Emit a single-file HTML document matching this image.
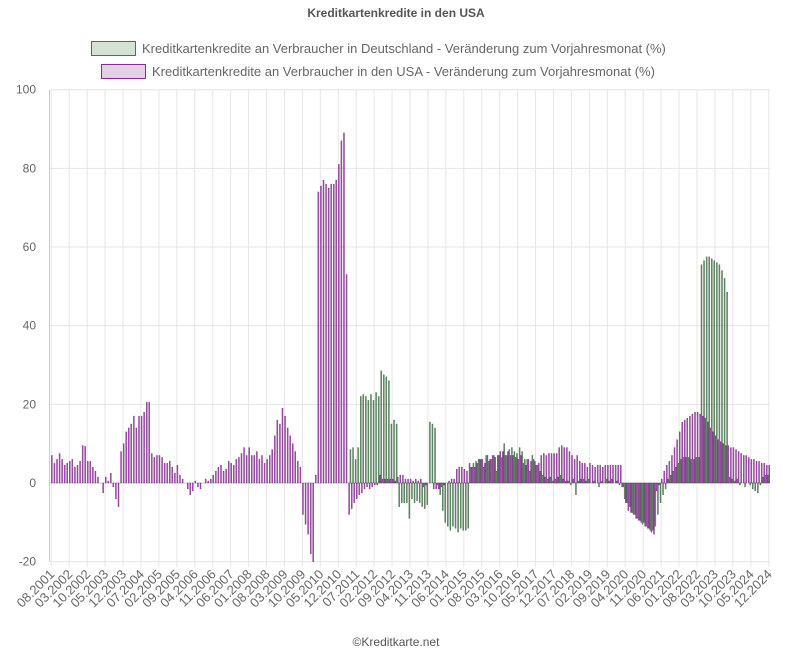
<!DOCTYPE html>
<html><head><meta charset="utf-8">
<style>
body{margin:0;background:#fff;font-family:"Liberation Sans",sans-serif;}
svg{display:block}
</style></head>
<body>
<svg id="chart" width="792" height="660">
<text x="396" y="17" text-anchor="middle" font-size="12" font-weight="bold" fill="#555">Kreditkartenkredite in den USA</text>
<g>
<rect x="91.5" y="41.5" width="44" height="14" fill="#d3e2d5" stroke="#4c7352" stroke-width="1"/>
<text x="142" y="53" font-size="13" fill="#666">Kreditkartenkredite an Verbraucher in Deutschland - Veränderung zum Vorjahresmonat (%)</text>
</g>
<g>
<rect x="101.5" y="64.5" width="44" height="14" fill="#e4d0e6" stroke="#8b2a94" stroke-width="1"/>
<text x="152" y="76" font-size="13" fill="#666">Kreditkartenkredite an Verbraucher in den USA - Veränderung zum Vorjahresmonat (%)</text>
</g>
<g id="grid"></g>
<g id="bars"></g>
<g id="axes"></g>
<text x="396" y="646" text-anchor="middle" font-size="12" fill="#555">©Kreditkarte.net</text>
</svg>
<script>
const yTicks=[-20,0,20,40,60,80,100];
const usa=[7,5,6,7.5,6,4.5,5,5.5,6,4,4.5,5.5,
9.5,9.3,5.5,5.5,4,3,1.5,0,-2.5,1.5,0.5,2.5,-1,-4,-6,
8,10,13,14,15,17,14,17,17,18,20.5,20.5,
7.5,6.5,7,7,6.5,5,5,5.5,4,2.5,4.5,2,
1,0,-1.5,-3,-2,0.5,-1,-1.5,0,1,0.5,1,
2,3,4,4.5,3,3.5,5.5,5,4.5,6,6.5,7.5,
9,7,9,7,7,8,6,7,5,6,7,8.5,
12,16,15,19,17,14,12,10,8,5.5,4,
-8,-10.5,-13,-18,-20,2,
74,75.5,77,76,75,76,76,77,81,87,89,53,
-8,-6.5,-5,-4,-3,-2.5,-1.5,-1,-1.5,-1,-0.5,-0.5,
2,1,1,1,1,1,0.5,1.5,2,2,1,1,
1,0.5,1,0.5,1,-1,-0.5,0,0,-1.5,-1.5,-1.5,
-1,-0.5,0,0.5,1,1,3.5,4,4,3.5,3,5,
4,4,5,6,6,5,7,6,7,6.5,7,8,
8,7,8,7,7,6.5,6,7,5,4.5,6,5.5,6,4.5,5,7,7.5,7,
7.5,7.5,7.5,7.5,9,9.5,9,9,8,7,6,7,
5.5,5,5,4,5,4.5,4,4.5,4.5,4,4.5,4.5,4.5,4.5,4.5,4.5,
4.5,
-1,-5,-7,-7.5,-8,-9,-9.5,-10,-10,-11,-11.5,-12.5,-13,
-2,-0.5,1,3,4.5,5.5,7,9,11,13,15.5,16,
16.5,17,17.5,18,18,17.5,17,16.5,15.5,14,13,12,
11,10.5,10,9.5,9.5,9,9,8.5,8,7.5,7,7,6.5,6,6,5.5,5.5,5,5,4.5,4.5];
const germany=[].concat(new Array(117).fill(0),
[8.5,9,6,9,22,22.5,22,21,22.5,21,23,22,28.5,27.5,27,26,15,16,15],
[-6,-5,-5,-5,-9,-4,-5,-4.5,-5,-6,-6.5,-5.5],
[15.5,15,14],
[-0.5,-3,-7,-10,-11,-12,-11,-11.5,-12.5,-11.5,-12,-12,-11.5],
[4,5,5.5,6,6,4,7,5.5,6,7,3,7,6.5,10,7,8.5,9,8,7.5,9,8,6,6,3,7,5.5,4.5,3,2,1.5],
[1,1.5,0.5,1,1.5,2,1,0.5,0.5,-0.5,1,-3,0.5,1,1,0.5,1,0,0.5,0,-1,0.5,0,1,0.5,1,0,0.5,-0.5],
[-1,-4,-5,-6,-7.5,-8,-9,-9.5,-10.5,-11,-11.5,-12,-12,-11,-8,-5,-3,-1.5],
[1,2,3,4,5,6,6.5,6.5,6.5,6,6,6.5,6.5],
[55.5,56.5,57.5,57.5,57,56.5,56,55.5,54,52,48.5],
[1.5,1,0.5,1,-0.5,0,-1,0,-0.5,-1.5,-2,-2.5,-0.5,1.5,2,2]);
const startYear=2001,startMonth=8,nMonths=281;
const ns="http://www.w3.org/2000/svg";
const X0=50,X1=770,Y0=483,PXU=3.933;
const bw=(X1-X0)/nMonths;
function xScale(i){return X0+(i+0.5)*bw;}
function yScale(v){return Y0-v*PXU;}
function mk(tag,attrs,parent){const e=document.createElementNS(ns,tag);for(const k in attrs)e.setAttribute(k,attrs[k]);parent.appendChild(e);return e;}
const grid=document.getElementById('grid'),bars=document.getElementById('bars'),axes=document.getElementById('axes');
yTicks.forEach(t=>{
 const g=mk('line',{x1:X0,x2:X1,y1:yScale(t),y2:yScale(t),stroke:t===0?'#ccc':'#e4e4e4','stroke-width':1},grid);
 
 
 const l=mk('text',{x:36,y:yScale(t)+4,'text-anchor':'end','font-size':12,fill:'#666'},axes);
 l.textContent=t;
 
 
});
mk('line',{x1:X0-0.5,x2:X0-0.5,y1:yScale(100),y2:yScale(-20),stroke:'#ccc'},axes);
for(let i=0;i<nMonths;i+=7){
 const x=xScale(i);
 const g=mk('line',{x1:x,x2:x,y1:yScale(100),y2:yScale(-20)+5,stroke:'#e6e6e6'},grid);
 
 
 const m=(startMonth-1+i)%12+1,yr=startYear+Math.floor((startMonth-1+i)/12);
 const t=mk('text',{x:x+4,y:575,'text-anchor':'end','font-size':13,fill:'#666',transform:`rotate(-45 ${x+4} 575)`},axes);
 t.textContent=(m<10?'0':'')+m+'.'+yr;
 
 
}
function drawSeries(arr,off,fill,stroke,name){
 arr.forEach((v,i)=>{
  if(v===0)return;
  const x=xScale(i)+off,y1=yScale(Math.max(v,0)),y2=yScale(Math.min(v,0));
  const r=mk('rect',{x:x,y:y1,width:1,height:Math.max(y2-y1,0.5),fill:fill,stroke:stroke,'stroke-width':0.4},bars);
  
  
 });
}
drawSeries(germany,-1.1,'rgba(90,130,95,0.8)','#2e5a35','bar-germany');
drawSeries(usa,0.1,'rgba(140,50,150,0.75)','#741a80','bar-usa');
</script>
</body></html>
